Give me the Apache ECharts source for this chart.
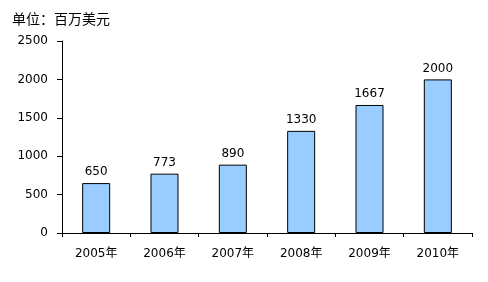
<!DOCTYPE html>
<html><head><meta charset="utf-8">
<script src="https://cdn.jsdelivr.net/npm/echarts@6/dist/echarts.min.js"></script>
<style>html,body{margin:0;padding:0;background:#fff}#c{width:488px;height:282px}</style>
</head><body><div id="c"></div>
<script>
var categories = ['2005年','2006年','2007年','2008年','2009年','2010年'];
var values = [650, 773, 890, 1330, 1667, 2000];
var unitText = '单位：百万美元';
var font = '"DejaVu Sans", "Noto Sans CJK SC", sans-serif';
var chart = echarts.init(document.getElementById('c'), null, {renderer:'canvas'});
chart.setOption({
  animation:false,
  backgroundColor:'#fff',
  title:{text:unitText,left:7,top:7,textStyle:{fontSize:14,fontWeight:'normal',color:'#000',fontFamily:'"Noto Sans CJK SC", sans-serif'}},
  grid:{left:62,right:16,top:41,bottom:49,containLabel:false},
  xAxis:{type:'category',data:categories,
    axisLine:{lineStyle:{color:'#000',width:1}},
    axisTick:{show:true,alignWithLabel:false,length:4,lineStyle:{color:'#000'}},
    axisLabel:{color:'#000',fontSize:12,fontFamily:font,margin:15}},
  yAxis:{type:'value',min:0,max:2500,interval:500,
    axisLine:{show:true,lineStyle:{color:'#000',width:1}},
    axisTick:{show:true,length:5,lineStyle:{color:'#000'}},
    splitLine:{show:false},
    axisLabel:{color:'#000',fontSize:12,fontFamily:font,margin:14,formatter:function(v){return String(v);}}},
  series:[{type:'bar',data:values,barWidth:'41%',
    itemStyle:{color:'#99CCFF',borderColor:'#000',borderWidth:1},
    label:{show:true,position:'top',distance:5,color:'#000',fontSize:12,fontFamily:font}}]
});
</script></body></html>
